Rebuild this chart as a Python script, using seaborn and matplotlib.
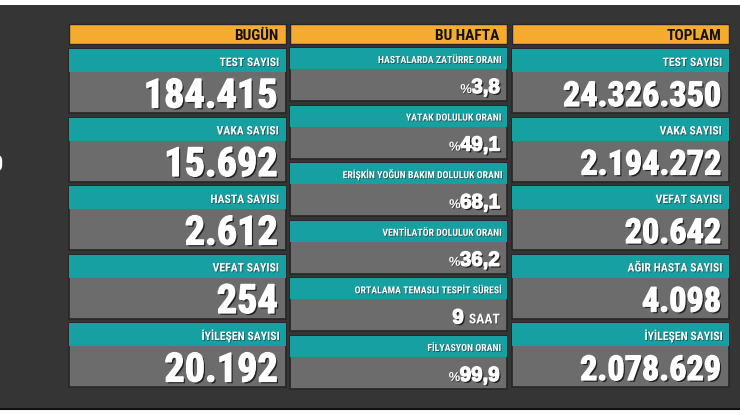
import matplotlib

matplotlib.use("Agg")
import matplotlib.pyplot as plt
import matplotlib.patheffects as pe
import seaborn as sns
from matplotlib import font_manager
from matplotlib.font_manager import FontProperties
from matplotlib.patches import Rectangle

sns.set_theme(style="dark")

# ---- data -------------------------------------------------------------
headers = ["BUGÜN", "BU HAFTA", "TOPLAM"]

bugun_labels = ["TEST SAYISI", "VAKA SAYISI", "HASTA SAYISI", "VEFAT SAYISI", "İYİLEŞEN SAYISI"]
bugun_values = [184415, 15692, 2612, 254, 20192]

hafta_labels = [
    "HASTALARDA ZATÜRRE ORANI",
    "YATAK DOLULUK ORANI",
    "ERİŞKİN YOĞUN BAKIM DOLULUK ORANI",
    "VENTİLATÖR DOLULUK ORANI",
    "ORTALAMA TEMASLI TESPİT SÜRESİ",
    "FİLYASYON ORANI",
]
hafta_values = [3.8, 49.1, 68.1, 36.2, 9, 99.9]
hafta_units = ["%", "%", "%", "%", "SAAT", "%"]

toplam_labels = ["TEST SAYISI", "VAKA SAYISI", "VEFAT SAYISI", "AĞIR HASTA SAYISI", "İYİLEŞEN SAYISI"]
toplam_values = [24326350, 2194272, 20642, 4098, 2078629]

# ---- style ------------------------------------------------------------
BG = "#353535"
ORANGE = "#f5aa30"
TEAL = "#17a0a2"
GRAY = "#6c6c6c"
EDGE = "#262626"

plt.rcParams["font.family"] = ["Liberation Sans", "DejaVu Sans"]


def pick_narrow_bold():
    entries = font_manager.fontManager.ttflist
    for f in entries:
        if f.name == "Liberation Sans Narrow" and f.weight in ("bold", 700) and f.style == "normal":
            return f.fname
    good = []
    for f in entries:
        low = f.fname.lower().replace("\\", "/").split("/")[-1]
        if ("condensed" in low or "narrow" in low) and low.endswith("bold.ttf") \
                and not any(w in low for w in ("semi", "extra", "mono", "serif", "italic")):
            rank = 0 if "noto" in low or "roboto" in low else (2 if "dejavu" in low else 1)
            good.append((rank, f.fname))
    if good:
        return sorted(good)[0][1]
    return None


narrow_file = pick_narrow_bold()


def narrow(size=10):
    if narrow_file:
        return FontProperties(fname=narrow_file, size=size)
    return FontProperties(family=["Liberation Sans", "DejaVu Sans"], weight="bold", size=size)


def wide(size=10):
    return FontProperties(family=["Liberation Sans", "DejaVu Sans"], weight="bold", size=size)


# heavy numbers with a dark drop shadow
shadow = [
    pe.SimplePatchShadow(offset=(1.3, -1.3), shadow_rgbFace="#1a1a1a", alpha=0.9),
    pe.Stroke(linewidth=0.9, foreground="white"),
    pe.Normal(),
]
small_shadow = [pe.withSimplePatchShadow(offset=(0.6, -0.6), shadow_rgbFace="#1e1e1e", alpha=0.6)]


def tr_int(v):
    return f"{v:,}".replace(",", ".")


def tr_dec(v):
    return f"{v:.1f}".replace(".", ",")


fig = plt.figure(figsize=(7.4, 4.17), dpi=100, facecolor="white")
ax = fig.add_axes([0, 0, 1, 1])
ax.set_xlim(0, 740)
ax.set_ylim(417, 0)
ax.axis("off")
renderer = fig.canvas.get_renderer()


def width_px(s, fp):
    t = ax.text(0, 0, s, fontproperties=fp)
    w = t.get_window_extent(renderer=renderer).width
    t.remove()
    return w


def fit(s, target, maker):
    # font size that makes the sample string as wide as in the reference
    return 10 * target / width_px(s, maker(10))


def left_of(text_obj):
    bb = text_obj.get_window_extent(renderer=renderer)
    return ax.transData.inverted().transform((bb.x0, bb.y0))[0]


HEAD_FP = narrow(fit("BUGÜN", 44, narrow))
LABEL_FP = narrow(fit("VAKA SAYISI", 62, narrow))
SMALL_LABEL_FP = narrow(fit("HASTALARDA ZATÜRRE ORANI", 123, narrow))
NUM1_FP = narrow(fit("184.415", 135, narrow))
NUM3_FP = narrow(fit("24.326.350", 159, narrow))
NUM2_FP = wide(fit("49,1", 40, wide))
PCT_FP = wide(fit("%", 11.5, wide))
SAAT_FP = narrow(fit("SAAT", 31, narrow))

ax.add_patch(Rectangle((0, 5), 740, 403, facecolor=BG, edgecolor="none"))
ax.plot([0, 740], [408.5, 408.5], color="#111111", lw=1.5)
ax.text(3, 171, "0", ha="right", fontproperties=narrow(16), color="white")

col_x = [69, 290, 512]
col_w = 217

# headers
for x, name in zip(col_x, headers):
    ax.add_patch(Rectangle((x, 24), col_w, 20, facecolor=ORANGE, edgecolor=EDGE, lw=1))
    ax.text(x + col_w - 8, 40, name, ha="right", va="baseline", fontproperties=HEAD_FP,
            color="#111111")


def big_column(x, labels, values, num_fp, num_off):
    for i, (lab, val) in enumerate(zip(labels, values)):
        top = 49 + 68.5 * i
        ax.add_patch(Rectangle((x, top), col_w, 64, facecolor=GRAY, edgecolor=EDGE, lw=1.2))
        ax.add_patch(Rectangle((x, top), col_w, 23, facecolor=TEAL, edgecolor="none"))
        ax.text(x + col_w - 8, top + 17, lab, ha="right", va="baseline", fontproperties=LABEL_FP,
                color="white", path_effects=small_shadow)
        ax.text(x + col_w - 8, top + num_off, tr_int(val), ha="right", va="baseline",
                fontproperties=num_fp, color="white", path_effects=shadow)


big_column(col_x[0], bugun_labels, bugun_values, NUM1_FP, 58.5)
big_column(col_x[2], toplam_labels, toplam_values, NUM3_FP, 57)

# weekly column
x = col_x[1]
for i, (lab, val, unit) in enumerate(zip(hafta_labels, hafta_values, hafta_units)):
    top = 48 + 57.6 * i
    ax.add_patch(Rectangle((x, top), col_w, 53, facecolor=GRAY, edgecolor=EDGE, lw=1.2))
    ax.add_patch(Rectangle((x, top), col_w, 21, facecolor=TEAL, edgecolor="none"))
    ax.text(x + col_w - 7, top + 15, lab, ha="right", va="baseline", fontproperties=SMALL_LABEL_FP,
            color="white", path_effects=small_shadow)
    if unit == "%":
        t = ax.text(x + col_w - 7, top + 45, tr_dec(val), ha="right", va="baseline",
                    fontproperties=NUM2_FP, color="white", path_effects=shadow)
        ax.text(left_of(t) + 0.5, top + 45, "%", ha="right", va="baseline",
                fontproperties=PCT_FP, color="white", path_effects=small_shadow)
    else:
        t = ax.text(x + col_w - 7, top + 45, unit, ha="right", va="baseline",
                    fontproperties=SAAT_FP, color="white", path_effects=small_shadow)
        ax.text(left_of(t) - 5, top + 45, str(val), ha="right", va="baseline",
                fontproperties=NUM2_FP, color="white", path_effects=shadow)

fig.savefig("out.png", dpi=100, facecolor="white")
